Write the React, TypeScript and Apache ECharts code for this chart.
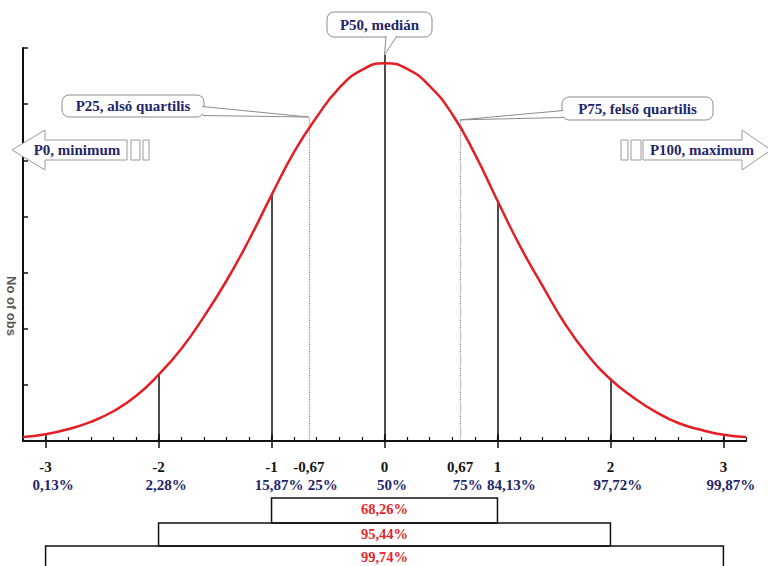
import React, { useEffect, useRef } from 'react';
import * as echarts from 'echarts';

// Curve (x in SD units, y in axis units)
const CURVE_X = [-3.2, -3.0, -2.8, -2.6, -2.4, -2.2, -2.0, -1.8, -1.6, -1.4, -1.2, -1.0, -0.8, -0.6, -0.4, -0.2, 0, 0.2, 0.4, 0.6, 0.8, 1.0, 1.2, 1.4, 1.6, 1.8, 2.0, 2.2, 2.4, 2.6, 2.8, 3.0, 3.2];
const CURVE_Y = [0.07, 0.12, 0.21, 0.34, 0.53, 0.8, 1.18, 1.64, 2.21, 2.85, 3.58, 4.38, 5.15, 5.77, 6.29, 6.61, 6.73, 6.63, 6.32, 5.82, 5.11, 4.28, 3.47, 2.76, 2.08, 1.53, 1.1, 0.78, 0.52, 0.32, 0.2, 0.11, 0.07];

const TICK_VALUES = [-3, -2, -1, -0.67, 0, 0.67, 1, 2, 3];
const TICK_LABELS = ['-3', '-2', '-1', '-0,67', '0', '0,67', '1', '2', '3'];
const PCT_LABELS = ['0,13%', '2,28%', '15,87%', '25%', '50%', '75%', '84,13%', '97,72%', '99,87%'];
const MAJOR_TICKS = [-3, -2, -1, 0, 1, 2, 3];

const SD_LINE_X = [-2, -1, 0, 1, 2];
const SD_LINE_TOP = [1.18, 4.38, 6.88, 4.28, 1.1];
const QUART_X = [-0.67, 0.67];
const QUART_TOP = [5.77, 5.72];

const RANGE_FROM = [-1, -2, -3];
const RANGE_TO = [1, 2, 3];
const RANGE_LABELS = ['68,26%', '95,44%', '99,74%'];

const CALLOUT_LABELS = ['P50, medián', 'P25, alsó quartilis', 'P75, felső quartilis'];
const ARROW_LABELS = ['P0, minimum', 'P100, maximum'];
const Y_NAME = 'No of obs';

const SERIF = '"Liberation Serif", "Times New Roman", serif';
const NAVY = '#24266a';
const BOX = '#8c8c8c';
// labels whose percentage text sits further right of its tick
const SHIFTED_PCT = new Set(['25%', '84,13%']);

export default function App() {
  const ref = useRef<HTMLDivElement>(null);

  useEffect(() => {
    document.body.style.margin = '0';
    const chart = echarts.init(ref.current!, null, { renderer: 'svg' });

    const sdLines = SD_LINE_X.map((x, i) => [
      { coord: [x, 0] },
      { coord: [x, SD_LINE_TOP[i]] },
    ]);
    const qLines = QUART_X.map((x, i) => [
      { coord: [x, 0], lineStyle: { color: '#8a8a8a', type: 'dotted', width: 1.2 } },
      { coord: [x, QUART_TOP[i]] },
    ]);

    const labStyle = { fontFamily: SERIF, fontWeight: 'bold', fontSize: 15, lineHeight: 18 };

    chart.setOption({
      animation: false,
      backgroundColor: '#ffffff',
      grid: { left: 23, top: 48, right: 22, bottom: 125 },
      xAxis: [
        {
          type: 'value',
          min: -3.2,
          max: 3.2,
          axisLine: { show: true, onZero: false, lineStyle: { color: '#111', width: 2 } },
          axisTick: { show: true, customValues: MAJOR_TICKS, inside: false, length: 7, lineStyle: { color: '#111', width: 1.5 } },
          splitLine: { show: false },
          axisLabel: {
            show: true,
            customValues: TICK_VALUES,
            margin: 17,
            formatter: (v: number) => {
              const i = TICK_VALUES.findIndex((t) => Math.abs(t - v) < 1e-6);
              if (i < 0) return '';
              const key = SHIFTED_PCT.has(PCT_LABELS[i]) ? 'c' : 'b';
              return `{a|${TICK_LABELS[i]}}\n{${key}|${PCT_LABELS[i]}}`;
            },
            rich: {
              a: { ...labStyle, color: '#151515' },
              b: { ...labStyle, color: NAVY, padding: [0, 0, 0, 15] },
              c: { ...labStyle, color: NAVY, padding: [0, 0, 0, 28] },
            },
          },
          z: 10,
        },
        {
          type: 'value',
          min: -3.2,
          max: 3.2,
          interval: 0.2,
          position: 'bottom',
          axisLine: { show: false, onZero: false },
          axisLabel: { show: false },
          splitLine: { show: false },
          axisTick: { show: true, inside: true, length: 4, lineStyle: { color: '#111', width: 1.2 } },
        },
        {
          type: 'value',
          min: -3.2,
          max: 3.2,
          position: 'bottom',
          axisLine: { show: false, onZero: false },
          axisLabel: { show: false },
          splitLine: { show: false },
          axisTick: { show: true, customValues: MAJOR_TICKS, inside: true, length: 7, lineStyle: { color: '#111', width: 1.5 } },
        },
      ],
      yAxis: {
        type: 'value',
        min: 0,
        max: 7,
        interval: 1,
        position: 'left',
        axisLine: { show: true, onZero: false, lineStyle: { color: '#111', width: 2 } },
        axisTick: { show: true, inside: true, length: 5, lineStyle: { color: '#111', width: 1.5 } },
        axisLabel: { show: false },
        splitLine: { show: false },
      },
      series: [
        {
          type: 'line',
          xAxisIndex: 0,
          yAxisIndex: 0,
          data: CURVE_X.map((x, i) => [x, CURVE_Y[i]]),
          smooth: true,
          showSymbol: false,
          symbol: 'none',
          lineStyle: { color: '#e31e24', width: 2.5 },
          z: 5,
          markLine: {
            silent: true,
            symbol: ['none', 'none'],
            label: { show: false },
            lineStyle: { color: '#111', width: 1.5, type: 'solid' },
            data: [...sdLines, ...qLines],
            z: 3,
          },
        },
      ],
    });

    const px = (x: number, y: number) =>
      chart.convertToPixel({ xAxisIndex: 0, yAxisIndex: 0 }, [x, y]) as number[];

    const font = `bold 15px ${SERIF}`;
    const g: any[] = [];

    // Bracket boxes below axis
    const tops = [498, 523, 546];
    const bottoms = [523, 546, 590];
    RANGE_LABELS.forEach((lab, i) => {
      const x1 = px(RANGE_FROM[i], 0)[0];
      const x2 = px(RANGE_TO[i], 0)[0];
      g.push({
        type: 'rect',
        z: 100,
        shape: { x: x1, y: tops[i], width: x2 - x1, height: bottoms[i] - tops[i] },
        style: { fill: 'rgba(0,0,0,0)', stroke: '#111', lineWidth: 1.5 },
      });
      g.push({
        type: 'text',
        z: 101,
        x: (x1 + x2) / 2,
        y: tops[i] + 11,
        style: { text: lab, font: `bold 14.5px ${SERIF}`, fill: '#e4262c', align: 'center', verticalAlign: 'middle' },
      });
    });

    // Callouts
    const callout = (
      label: string,
      bx: number, by: number, bw: number, bh: number,
      tip: number[], b1: number[], b2: number[]
    ) => {
      g.push({
        type: 'rect', z: 100,
        shape: { x: bx, y: by, width: bw, height: bh, r: 7 },
        style: { fill: '#fff', stroke: BOX, lineWidth: 1 },
      });
      g.push({
        type: 'polygon', z: 101,
        shape: { points: [b1, tip, b2] },
        style: { fill: '#fff', stroke: null },
      });
      g.push({
        type: 'polyline', z: 102,
        shape: { points: [b1, tip, b2] },
        style: { fill: null, stroke: BOX, lineWidth: 1 },
      });
      g.push({
        type: 'text', z: 103,
        x: bx + bw / 2, y: by + bh / 2,
        style: { text: label, font, fill: NAVY, align: 'center', verticalAlign: 'middle' },
      });
    };

    const t50 = px(0, SD_LINE_TOP[2]);
    callout(CALLOUT_LABELS[0], 327, 12, 105, 25, t50, [386, 36], [397, 36]);
    const t25 = px(QUART_X[0], QUART_TOP[0]);
    callout(CALLOUT_LABELS[1], 62, 95, 142, 22, t25, [202, 106.5], [203, 115.5]);
    const t75 = px(QUART_X[1], QUART_TOP[1]);
    callout(CALLOUT_LABELS[2], 562, 97, 151, 23, t75, [563.5, 110.5], [563, 117.5]);

    // Arrows
    const arrowStyle = { fill: '#fff', stroke: '#9a9a9a', lineWidth: 1 };
    g.push({
      type: 'polygon', z: 100,
      shape: { points: [[12, 150], [45, 130], [45, 140], [127, 140], [127, 160], [45, 160], [45, 170]] },
      style: arrowStyle,
    });
    g.push({ type: 'rect', z: 100, shape: { x: 131, y: 140, width: 9, height: 20 }, style: arrowStyle });
    g.push({ type: 'rect', z: 100, shape: { x: 143, y: 140, width: 6, height: 20 }, style: arrowStyle });
    g.push({
      type: 'text', z: 101, x: 77, y: 150,
      style: { text: ARROW_LABELS[0], font, fill: NAVY, align: 'center', verticalAlign: 'middle' },
    });

    g.push({
      type: 'polygon', z: 100,
      shape: { points: [[771, 150], [742, 130], [742, 140], [643, 140], [643, 160], [742, 160], [742, 170]] },
      style: arrowStyle,
    });
    g.push({ type: 'rect', z: 100, shape: { x: 621, y: 140, width: 7, height: 20 }, style: arrowStyle });
    g.push({ type: 'rect', z: 100, shape: { x: 631, y: 140, width: 10, height: 20 }, style: arrowStyle });
    g.push({
      type: 'text', z: 101, x: 702, y: 150,
      style: { text: ARROW_LABELS[1], font, fill: NAVY, align: 'center', verticalAlign: 'middle' },
    });

    // Y axis name
    g.push({
      type: 'text', z: 101, x: 11, y: 306, rotation: -Math.PI / 2,
      style: {
        text: Y_NAME,
        font: 'bold 13px "Liberation Sans", Arial, sans-serif',
        fill: '#5a5a5a', align: 'center', verticalAlign: 'middle',
      },
    });

    chart.setOption({ graphic: g });

    return () => chart.dispose();
  }, []);

  return (
    <div
      ref={ref}
      style={{ position: 'fixed', left: 0, top: 0, width: 768, height: 566 }}
    />
  );
}
